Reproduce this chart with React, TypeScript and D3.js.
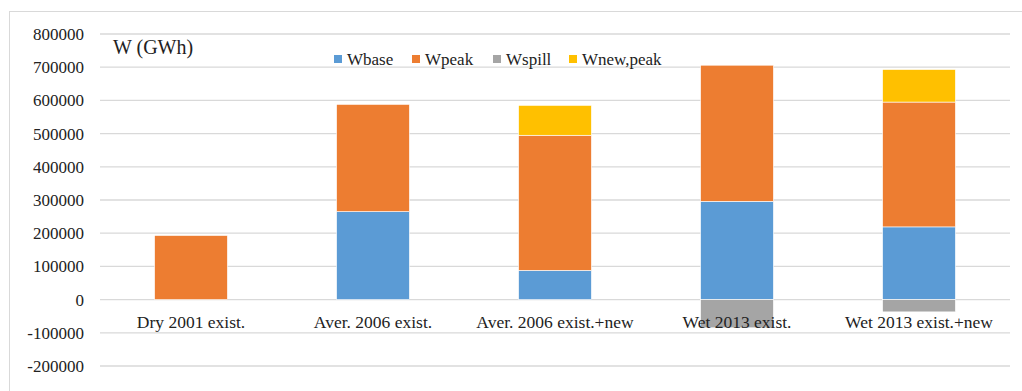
import React from "react";
import * as d3 from "d3";

const categories = ["Dry 2001 exist.", "Aver. 2006 exist.", "Aver. 2006 exist.+new", "Wet 2013 exist.", "Wet 2013 exist.+new"];
const wbase = [0, 265000, 88000, 296000, 219000];
const wpeak = [193000, 323000, 407000, 410000, 376000];
const wspill = [0, 0, 0, -85000, -37000];
const wnewPeak = [0, 0, 90000, 0, 98000];
const yTicks = [-200000, -100000, 0, 100000, 200000, 300000, 400000, 500000, 600000, 700000, 800000];
const seriesNames = ["Wbase", "Wpeak", "Wspill", "Wnew,peak"];
const colors = ["#5B9BD5", "#ED7D31", "#A5A5A5", "#FFC000"];

const W = 1022, H = 391;
const fontStyle = { fontFamily: "\"Liberation Serif\", \"Times New Roman\", Tinos, \"DejaVu Serif\", serif" };

export default function App() {
  const x = d3.scaleBand().domain(categories).range([100, 1010]).paddingInner(0.6).paddingOuter(0.3);
  const y = d3.scaleLinear().domain([-200000, 800000]).range([366, 34]);
  const bw = x.bandwidth();

  const bars: { x: number; y0: number; y1: number; c: string }[] = [];
  categories.forEach((cat, i) => {
    const bx = x(cat)!;
    let pos = 0;
    const stackPos = [
      { v: wbase[i], c: colors[0] },
      { v: wpeak[i], c: colors[1] },
      { v: wnewPeak[i], c: colors[3] },
    ];
    stackPos.forEach((s) => {
      if (s.v > 0) {
        bars.push({ x: bx, y0: y(pos), y1: y(pos + s.v), c: s.c });
        pos += s.v;
      }
    });
    if (wspill[i] < 0) bars.push({ x: bx, y0: y(wspill[i]), y1: y(0), c: colors[2] });
  });

  const legendX = [334, 412, 493, 569];

  return (
    <svg width={W} height={H} style={{ position: "absolute", left: 0, top: 0, background: "#fff", ...fontStyle }}>
      <rect x={9.5} y={11.5} width={1030} height={400} fill="none" stroke="#D9D9D9" strokeWidth={1} />
      {yTicks.map((t) => (
        <g key={t}>
          <line x1={100} x2={1010} y1={y(t)} y2={y(t)} stroke="#D9D9D9" strokeWidth={1.3} />
          <text x={84} y={y(t)} dy="0.35em" textAnchor="end" style={fontStyle} fontSize={17} fill="#222">
            {t}
          </text>
        </g>
      ))}
      {bars.map((b, i) => (
        <rect key={i} x={b.x} y={Math.min(b.y0, b.y1)} width={bw} height={Math.abs(b.y0 - b.y1)} fill={b.c} stroke="#fff" strokeWidth={0.6} />
      ))}
      {categories.map((c) => (
        <text key={c} x={x(c)! + bw / 2} y={322} dy="0.35em" textAnchor="middle" style={fontStyle} fontSize={17.5} fill="#222">
          {c}
        </text>
      ))}
      <text x={113} y={47} dy="0.35em" style={fontStyle} fontSize={20} fill="#222">W (GWh)</text>
      {seriesNames.map((s, i) => (
        <g key={s}>
          <rect x={legendX[i]} y={55} width={8} height={8} fill={colors[i]} />
          <text x={legendX[i] + 13} y={59} dy="0.35em" style={fontStyle} fontSize={17} fill="#222">{s}</text>
        </g>
      ))}
    </svg>
  );
}
